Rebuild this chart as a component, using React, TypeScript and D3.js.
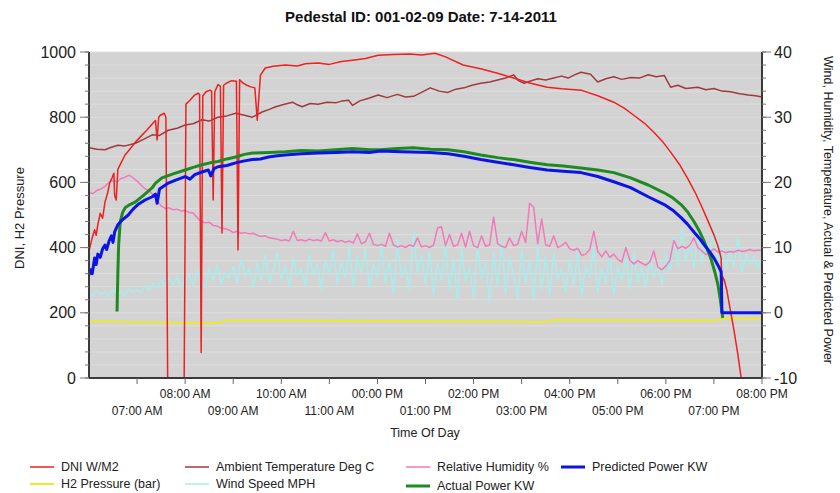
import React from 'react';
import * as d3 from 'd3';

// Pedestal 001-02-09, 7-14-2011. Times are HH:MM.
const dniPoints: [string, number][] = [
  ['06:00', 390], ['06:04', 430], ['06:07', 455], ['06:09', 438], ['06:11', 470], ['06:14', 505],
  ['06:17', 490], ['06:20', 540], ['06:23', 565], ['06:26', 600], ['06:29', 615], ['06:31', 628],
  ['06:32', 560], ['06:34', 546], ['06:36', 640], ['06:40', 660], ['06:45', 684], ['06:52', 705],
  ['06:58', 724], ['07:05', 742], ['07:12', 760], ['07:20', 782], ['07:23', 790], ['07:25', 730],
  ['07:27', 800], ['07:29', 806], ['07:34', 812], ['07:36', 800], ['07:39', -300], ['07:58', -300],
  ['08:01', 840], ['08:06', 852], ['08:11', 866], ['08:16', 874], ['08:18', 870], ['08:20', 78],
  ['08:22', 865], ['08:26', 878], ['08:31', 883], ['08:33', 880], ['08:35', 546], ['08:37', 878],
  ['08:41', 900], ['08:44', 895], ['08:46', 445], ['08:48', 898], ['08:52', 905], ['08:58', 912],
  ['09:04', 910], ['09:06', 393], ['09:08', 915], ['09:12', 905], ['09:17', 898], ['09:22', 893],
  ['09:27', 890], ['09:30', 791], ['09:34', 929], ['09:40', 951], ['09:50', 956], ['10:05', 960],
  ['10:20', 957], ['10:30', 964], ['10:46', 966], ['11:00', 962], ['11:15', 971], ['11:29', 975],
  ['11:45', 980], ['12:01', 990], ['12:20', 992], ['12:40', 994], ['12:55', 991], ['13:12', 996],
  ['13:25', 985], ['13:47', 960], ['14:10', 948], ['14:30', 935], ['14:50', 920], ['15:10', 905],
  ['15:32', 892], ['15:50', 887], ['16:14', 883], ['16:35', 866], ['16:55', 846], ['17:08', 828],
  ['17:20', 806], ['17:33', 782], ['17:45', 754], ['17:56', 725], ['18:06', 693], ['18:17', 655],
  ['18:27', 613], ['18:36', 572], ['18:44', 530], ['18:52', 485], ['19:00', 439], ['19:05', 405],
  ['19:09', 368], ['19:10', 264], ['19:11', 310], ['19:13', 300], ['19:16', 270], ['19:20', 215],
  ['19:25', 147], ['19:30', 70], ['19:34', 0], ['19:38', -100],
];

const h2Points: [string, number][] = [
  ['06:00', 175], ['06:30', 173], ['07:00', 171], ['07:30', 170], ['08:00', 169], ['08:30', 168],
  ['08:45', 170], ['08:50', 176], ['10:00', 176], ['12:00', 175], ['14:00', 173], ['15:30', 172],
  ['15:40', 178], ['17:00', 177], ['18:30', 176], ['19:00', 176], ['19:15', 183], ['20:00', 182],
];

const tempPoints: [string, number][] = [
  ['06:00', 25.3], ['06:10', 25.1], ['06:20', 25.0], ['06:28', 25.4], ['06:36', 25.7], ['06:45', 25.6],
  ['06:58', 26.0], ['07:08', 26.6], ['07:19', 27.3], ['07:28', 27.2], ['07:39', 28.0], ['07:50', 28.3],
  ['08:00', 28.8], ['08:10', 29.0], ['08:21', 29.6], ['08:30', 29.4], ['08:41', 30.0], ['08:52', 30.2],
  ['09:03', 30.6], ['09:14', 30.3], ['09:24', 30.0], ['09:36', 30.8], ['09:45', 31.2], ['09:53', 31.6],
  ['10:04', 32.0], ['10:14', 32.3], ['10:20', 31.9], ['10:26', 31.6], ['10:36', 32.1], ['10:46', 32.0],
  ['10:57', 32.3], ['11:08', 32.2], ['11:16', 32.5], ['11:24', 32.6], ['11:29', 31.8], ['11:38', 32.5],
  ['11:49', 32.9], ['12:01', 33.4], ['12:12', 33.0], ['12:25', 33.5], ['12:35', 33.1], ['12:45', 33.2],
  ['12:55', 33.8], ['13:06', 34.5], ['13:17', 34.0], ['13:28', 33.8], ['13:38', 34.3], ['13:48', 34.5],
  ['13:58', 34.9], ['14:09', 35.2], ['14:20', 35.4], ['14:30', 35.7], ['14:40', 36.0], ['14:50', 36.5],
  ['14:56', 35.6], ['15:03', 35.2], ['15:12', 35.6], ['15:20', 35.9], ['15:30', 35.7], ['15:40', 36.0],
  ['15:50', 36.3], ['15:58', 36.0], ['16:06', 36.5], ['16:14', 36.9], ['16:26', 36.6], ['16:35', 35.4],
  ['16:45', 35.9], ['16:55', 36.2], ['17:05', 35.8], ['17:16', 36.1], ['17:27', 36.0], ['17:38', 36.5],
  ['17:48', 36.2], ['17:58', 36.4], ['18:02', 35.5], ['18:06', 34.6], ['18:15', 34.9], ['18:25', 34.4],
  ['18:40', 34.6], ['18:50', 34.2], ['19:00', 34.4], ['19:10', 34.0], ['19:21', 33.9], ['19:32', 33.6],
  ['19:43', 33.4], ['19:52', 33.3], ['20:00', 33.1],
];

// sampled every 5 minutes from 06:00
const humidityValues = [
  18.4, 18.3, 18.8, 19.0, 19.4, 20.0, 20.3, 20.1, 20.6, 20.8, 21.1, 20.7, 20.2,
  19.6, 19.0, 18.7, 18.1, 17.2, 16.4, 16.0, 16.1, 15.8, 15.9, 15.6, 15.7,
  15.4, 15.3, 14.6, 14.0, 13.8, 13.9, 13.4, 13.3, 13.0, 12.9, 12.7, 12.3,
  12.5, 12.2, 12.3, 12.1, 12.2, 11.9, 11.7, 11.8, 11.5, 11.4, 11.3, 11.1,
  11.2, 11.0, 12.5, 11.1, 11.2, 11.0, 11.3, 11.1, 11.2, 11.0, 12.3, 11.0,
  11.2, 10.9, 11.1, 10.8, 11.0, 10.7, 12.1, 10.6, 10.9, 12.2, 10.5, 10.3,
  10.5, 10.2, 12.2, 10.4, 10.1, 10.3, 10.0, 10.4, 10.2, 11.5, 10.1, 10.3,
  10.0, 10.4, 13.0, 13.2, 10.3, 12.0, 10.2, 10.4, 12.2, 10.1, 12.5, 10.3,
  10.0, 11.8, 10.2, 10.4, 14.7, 10.6, 10.2, 10.0, 11.5, 10.3, 10.5, 12.5,
  10.8, 16.8, 16.2, 10.6, 14.4, 10.4, 10.2, 11.8, 10.0, 10.3, 10.8, 9.8,
  9.6, 9.9, 8.8, 9.0, 9.7, 12.5, 9.4, 8.6, 9.5, 8.5, 9.0, 8.2,
  7.8, 10.0, 8.1, 7.5, 8.0, 7.6, 7.3, 7.8, 9.5, 7.0, 6.6, 7.2,
  8.0, 11.1, 9.8, 10.2, 9.9, 10.4, 11.5, 10.0, 9.5, 8.9, 9.4, 9.8,
  9.3, 9.5, 9.2, 9.4, 9.3, 9.6, 9.4, 9.5, 9.7, 9.5, 9.6, 9.6,
];

// sampled every 5 minutes from 06:00
const windValues = [
  3.0, 2.6, 3.4, 2.8, 3.2, 2.5, 3.6, 2.9, 3.3, 2.7, 3.8, 3.1, 3.5,
  3.0, 4.2, 3.4, 4.6, 3.8, 5.0, 4.1, 5.4, 4.3, 5.6, 3.9, 4.8,
  5.9, 4.2, 6.5, 4.8, 3.9, 6.8, 5.0, 7.4, 4.4, 6.2, 5.3, 7.0,
  4.6, 8.2, 5.5, 6.9, 3.8, 7.6, 5.1, 8.9, 4.7, 6.4, 9.2, 5.2,
  7.1, 3.9, 8.4, 5.6, 6.8, 4.1, 9.0, 5.8, 7.4, 3.6, 8.1, 6.0,
  9.6, 4.4, 7.8, 5.3, 10.2, 4.0, 8.6, 6.2, 9.8, 3.8, 7.5, 5.4,
  10.5, 4.6, 8.0, 2.9, 11.2, 5.5, 7.2, 3.4, 12.4, 6.1, 8.8, 4.2,
  9.4, 2.6, 7.6, 5.0, 10.8, 3.5, 8.3, 1.8, 9.9, 4.8, 6.9, 2.4,
  10.1, 5.2, 7.7, 1.5, 9.2, 4.0, 11.0, 3.0, 8.4, 5.8, 2.2, 9.6,
  4.5, 7.9, 1.9, 10.3, 3.6, 8.7, 2.7, 9.0, 5.1, 6.6, 3.3, 8.2,
  4.1, 9.5, 2.5, 7.3, 5.4, 10.0, 3.2, 6.8, 4.6, 8.9, 2.8, 7.0,
  5.0, 8.4, 3.6, 9.3, 4.7, 6.9, 3.9, 8.6, 5.5, 7.5, 4.3, 9.1,
  6.4, 11.8, 7.2, 13.0, 8.0, 10.6, 6.8, 12.2, 7.5, 11.0, 9.0, 12.5,
  7.8, 10.4, 6.6, 9.8, 7.0, 11.5, 6.2, 9.0, 7.4, 8.6, 6.9, 8.2,
];

const predictedPoints: [string, number][] = [
  ['06:00', 5.8], ['06:02', 6.6], ['06:04', 6.0], ['06:07', 8.4], ['06:09', 7.4], ['06:11', 9.0],
  ['06:14', 8.5], ['06:17', 9.8], ['06:20', 10.4], ['06:22', 9.7], ['06:25', 11.0], ['06:28', 11.8],
  ['06:30', 10.8], ['06:32', 12.4], ['06:36', 13.5], ['06:42', 14.3], ['06:49', 15.0], ['06:55', 15.9],
  ['07:01', 16.6], ['07:10', 17.3], ['07:19', 17.8], ['07:23', 18.2], ['07:25', 16.8], ['07:28', 19.0],
  ['07:39', 19.9], ['07:49', 20.4], ['08:00', 20.9], ['08:06', 20.5], ['08:12', 21.2], ['08:21', 21.6],
  ['08:29', 21.9], ['08:32', 21.0], ['08:36', 22.1], ['08:41', 22.4], ['08:52', 22.6], ['09:03', 23.0],
  ['09:14', 23.3], ['09:24', 23.5], ['09:34', 23.6], ['09:44', 23.9], ['09:55', 24.1], ['10:05', 24.2],
  ['10:25', 24.4], ['10:46', 24.5], ['11:08', 24.6], ['11:29', 24.7], ['11:50', 24.6], ['12:04', 24.8],
  ['12:30', 24.7], ['13:06', 24.6], ['13:28', 24.4], ['13:48', 24.0], ['14:09', 23.5], ['14:30', 23.1],
  ['14:50', 22.7], ['15:10', 22.3], ['15:32', 21.9], ['15:52', 21.7], ['16:14', 21.5], ['16:35', 20.9],
  ['16:55', 20.1], ['17:16', 19.2], ['17:38', 17.8], ['17:58', 16.6], ['18:10', 15.6], ['18:19', 14.6],
  ['18:27', 13.6], ['18:35', 12.4], ['18:42', 11.4], ['18:48', 10.4], ['18:55', 9.3], ['19:00', 8.4],
  ['19:05', 7.3], ['19:09', 6.3], ['19:10', 0], ['20:00', 0],
];

const actualPoints: [string, number][] = [
  ['06:35', 0.2], ['06:36', 6.0], ['06:37', 10.4], ['06:39', 14.0], ['06:42', 15.4], ['06:45', 16.1],
  ['06:51', 16.6], ['06:58', 17.0], ['07:08', 18.0], ['07:19', 19.2], ['07:23', 19.9], ['07:31', 20.7],
  ['07:45', 21.3], ['08:00', 21.9], ['08:10', 22.3], ['08:21', 22.7], ['08:31', 23.0], ['08:41', 23.2],
  ['08:52', 23.6], ['09:03', 23.9], ['09:14', 24.3], ['09:24', 24.5], ['09:45', 24.6], ['10:05', 24.7],
  ['10:25', 24.9], ['10:46', 24.8], ['11:08', 25.0], ['11:29', 25.2], ['11:50', 25.0], ['12:04', 25.0],
  ['12:25', 25.2], ['12:45', 25.3], ['13:06', 25.1], ['13:28', 25.0], ['13:48', 24.7], ['14:09', 24.2],
  ['14:30', 23.8], ['14:50', 23.5], ['15:10', 23.1], ['15:32', 22.7], ['15:52', 22.5], ['16:14', 22.2],
  ['16:35', 21.9], ['16:55', 21.5], ['17:16', 20.7], ['17:38', 19.6], ['17:58', 18.4], ['18:09', 17.6],
  ['18:19', 16.6], ['18:27', 15.5], ['18:35', 14.0], ['18:42', 12.5], ['18:48', 10.9], ['18:56', 8.4],
  ['19:01', 6.3], ['19:05', 4.3], ['19:08', 2.0], ['19:11', -0.8],
];

const leftTicks = [0, 200, 400, 600, 800, 1000];
const rightTicks = [-10, 0, 10, 20, 30, 40];
const hourTicks = [7, 8, 9, 10, 11, 12, 13, 14, 15, 16, 17, 18, 19, 20];

const legendItems = [
  { name: 'DNI W/M2', color: '#ee2020', width: 1.5 },
  { name: 'Ambient Temperature Deg C', color: '#a03a3e', width: 1.5 },
  { name: 'Relative Humidity %', color: '#f27ab8', width: 1.5 },
  { name: 'Predicted Power KW', color: '#0a14e6', width: 3 },
  { name: 'H2 Pressure (bar)', color: '#eeea2a', width: 2 },
  { name: 'Wind Speed MPH', color: '#a8ecec', width: 1.5 },
  { name: 'Actual Power KW', color: '#1f8a22', width: 3 },
];

const parse = d3.timeParse('%H:%M');
const FONT = '"Liberation Sans", Arial, sans-serif';

export default function App() {
  const width = 840;
  const height = 493;
  const plot = { left: 89, right: 762, top: 52, bottom: 378 };

  const x = d3.scaleTime().domain([parse('06:00')!, parse('20:00')!]).range([plot.left, plot.right]);
  const yL = d3.scaleLinear().domain([0, 1000]).range([plot.bottom, plot.top]);
  const yR = d3.scaleLinear().domain([-10, 40]).range([plot.bottom, plot.top]);

  const start = parse('06:00')!;
  const sampled = (vals: number[]) =>
    vals.map((v, i) => [d3.timeMinute.offset(start, i * 5), v] as [Date, number]);
  const pairs = (pts: [string, number][]) => pts.map(([t, v]) => [parse(t)!, v] as [Date, number]);

  const lineL = d3.line<[Date, number]>().x((d) => x(d[0])).y((d) => yL(d[1]));
  const lineR = d3.line<[Date, number]>().x((d) => x(d[0])).y((d) => yR(d[1]));

  // the source chart prints noon as "00:00 PM"
  const hourLabel = (h: number) => {
    const hh = String(h % 12).padStart(2, '0');
    return `${hh}:00 ${h < 12 ? 'AM' : 'PM'}`;
  };

  const leftMinor = d3.range(0, 1001, 40);
  const rightMinor = d3.range(-10, 41, 2);
  const axisColor = '#3a3a3a';

  const legendCols = [30, 185, 406, 561];
  const legendRows = [467, 484];

  return (
    <svg
      width={width}
      height={height}
      style={{ position: 'fixed', left: 0, top: 0, background: '#fff' }}
      fontFamily={FONT}
    >
      <defs>
        <clipPath id="plotClip">
          <rect x={plot.left} y={plot.top} width={plot.right - plot.left} height={plot.bottom - plot.top} />
        </clipPath>
      </defs>

      <text x={421} y={22} textAnchor="middle" fontSize={15} fontWeight="bold" fill="#111">
        Pedestal ID: 001-02-09 Date: 7-14-2011
      </text>

      <rect x={plot.left} y={plot.top} width={plot.right - plot.left} height={plot.bottom - plot.top} fill="#d3d3d3" />
      {leftMinor.map((v) => (
        <line key={v} x1={plot.left} x2={plot.right} y1={yL(v)} y2={yL(v)} stroke="#dedede" strokeWidth={1} />
      ))}

      <g clipPath="url(#plotClip)" fill="none" strokeLinejoin="round">
        <path d={lineR(sampled(windValues))!} stroke="#a8ecec" strokeWidth={1.5} />
        <path d={lineR(sampled(humidityValues))!} stroke="#f27ab8" strokeWidth={1.5} />
        <path d={lineL(pairs(h2Points))!} stroke="#eeea2a" strokeWidth={2} />
        <path d={lineR(pairs(tempPoints))!} stroke="#a03a3e" strokeWidth={1.5} />
        <path d={lineL(pairs(dniPoints))!} stroke="#ee2020" strokeWidth={1.5} />
        <path d={lineR(pairs(actualPoints))!} stroke="#1f8a22" strokeWidth={3} />
        <path d={lineR(pairs(predictedPoints))!} stroke="#0a14e6" strokeWidth={3} />
      </g>

      {/* axes */}
      <line x1={plot.left} x2={plot.left} y1={plot.top} y2={plot.bottom} stroke={axisColor} strokeWidth={2} />
      <line x1={plot.right} x2={plot.right} y1={plot.top} y2={plot.bottom} stroke={axisColor} strokeWidth={2} />
      <line x1={plot.left} x2={plot.right} y1={plot.bottom} y2={plot.bottom} stroke={axisColor} strokeWidth={2} />

      {leftMinor.map((v) => (
        <line key={v} x1={plot.left - 4} x2={plot.left} y1={yL(v)} y2={yL(v)} stroke="#777" strokeWidth={1} />
      ))}
      {leftTicks.map((v) => (
        <g key={v}>
          <line x1={plot.left - 9} x2={plot.left} y1={yL(v)} y2={yL(v)} stroke="#777" strokeWidth={1} />
          <text x={plot.left - 13} y={yL(v)} dy="0.35em" textAnchor="end" fontSize={16} fill="#222">
            {v}
          </text>
        </g>
      ))}

      {rightMinor.map((v) => (
        <line key={v} x1={plot.right} x2={plot.right + 4} y1={yR(v)} y2={yR(v)} stroke="#777" strokeWidth={1} />
      ))}
      {rightTicks.map((v) => (
        <g key={v}>
          <line x1={plot.right} x2={plot.right + 9} y1={yR(v)} y2={yR(v)} stroke="#777" strokeWidth={1} />
          <text x={plot.right + 12} y={yR(v)} dy="0.35em" textAnchor="start" fontSize={16} fill="#222">
            {v}
          </text>
        </g>
      ))}

      {hourTicks.map((h) => {
        const px = x(d3.timeHour.offset(parse('00:00')!, h));
        const upper = h % 2 === 0;
        return (
          <g key={h}>
            <line x1={px} x2={px} y1={plot.bottom} y2={plot.bottom + 6} stroke="#666" strokeWidth={1} />
            <text x={px} y={upper ? 398 : 415} textAnchor="middle" fontSize={12} fill="#222">
              {hourLabel(h)}
            </text>
          </g>
        );
      })}

      <text x={425} y={437} textAnchor="middle" fontSize={12.5} fill="#222">
        Time Of Day
      </text>
      <text transform="translate(24,218) rotate(-90)" textAnchor="middle" fontSize={13} fill="#222">
        DNI, H2 Pressure
      </text>
      <text transform="translate(824,210) rotate(90)" textAnchor="middle" fontSize={12.5} fill="#222">
        Wind, Humidity, Temperature, Actual &amp; Predicted Power
      </text>

      {legendItems.map((item, i) => {
        const row = i < 4 ? 0 : 1;
        const cx = legendCols[i < 4 ? i : i - 4];
        const cy = legendRows[row] + (i === 6 ? 2 : 0);
        return (
          <g key={item.name}>
            <line x1={cx} x2={cx + 24} y1={cy} y2={cy} stroke={item.color} strokeWidth={item.width} />
            <text x={cx + 31} y={cy} dy="0.35em" fontSize={12.5} fill="#222">
              {item.name}
            </text>
          </g>
        );
      })}
    </svg>
  );
}
